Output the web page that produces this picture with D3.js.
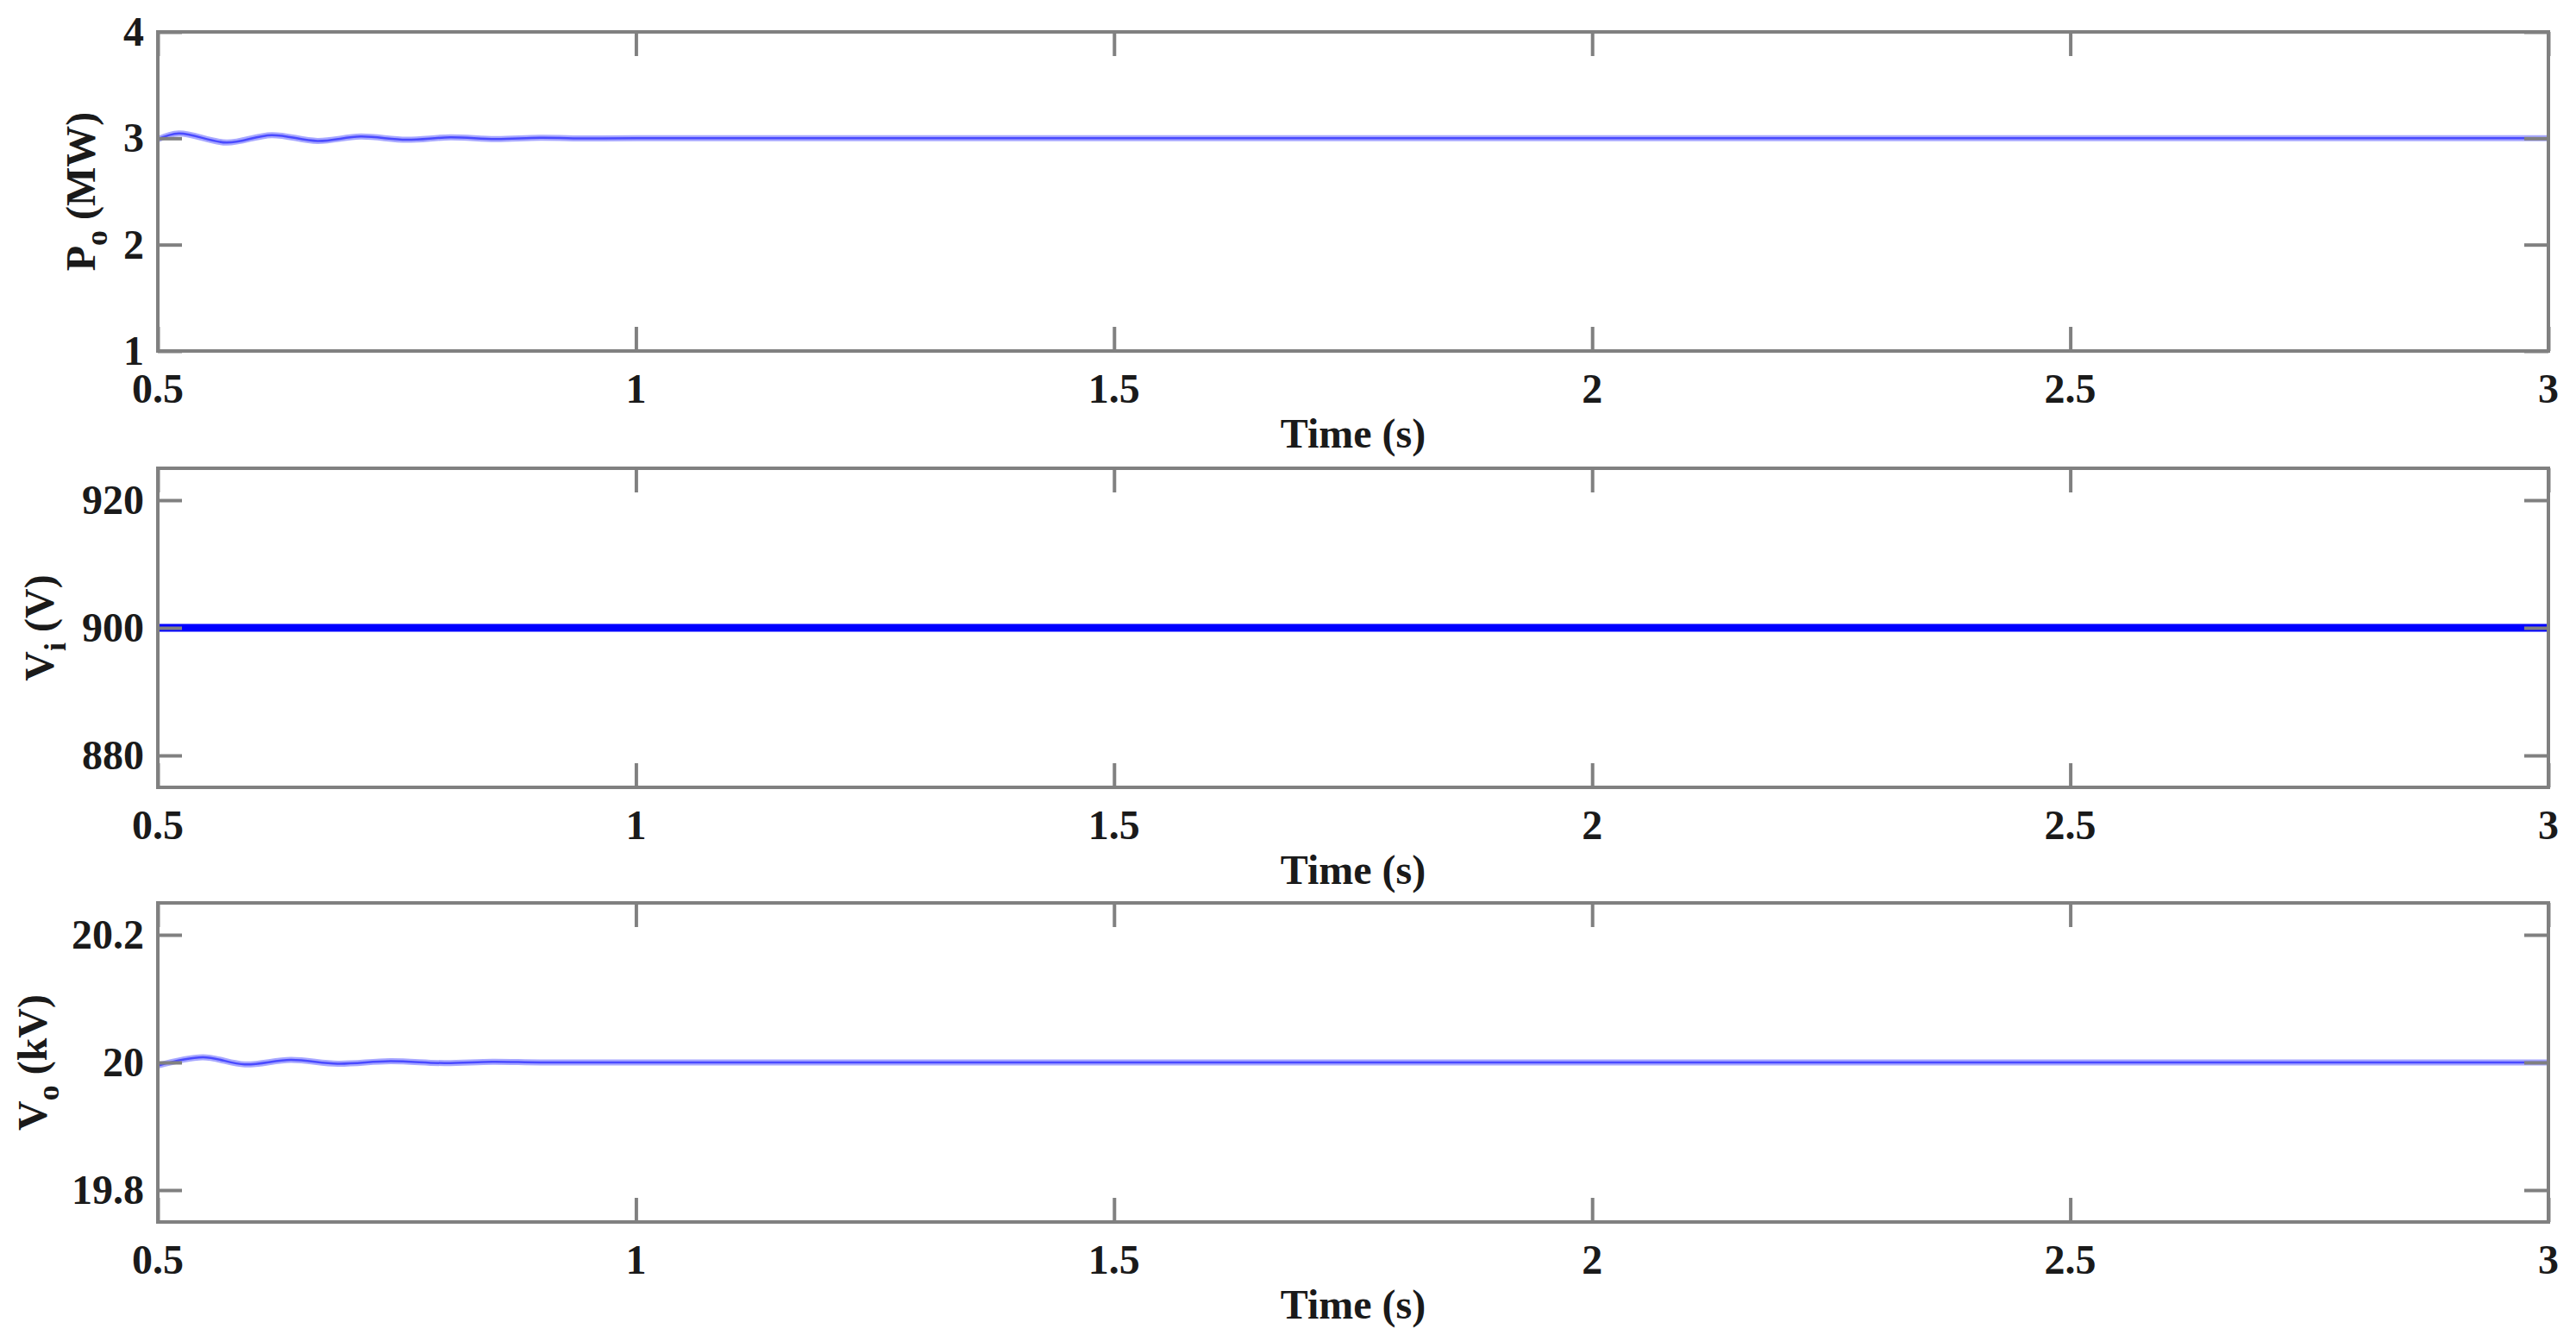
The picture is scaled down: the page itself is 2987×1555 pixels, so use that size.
<!DOCTYPE html>
<html>
<head>
<meta charset="utf-8">
<script src="https://cdn.jsdelivr.net/npm/d3@7"></script>
<style>
  body { margin: 0; background: #fff; }
  text { font-family: "Liberation Serif", "Times New Roman", serif; font-weight: bold; fill: #1a1a1a; }
</style>
</head>
<body>
<svg id="chart" width="2987" height="1555"></svg>
<script>
// x axis
const timeTicks = [0.5, 1, 1.5, 2, 2.5, 3]
const timeDomain = [0.5, 3]

// output power Po (MW)
const poTime = [0.5, 0.522, 0.572, 0.619, 0.667, 0.712, 0.76, 0.806, 0.853, 0.9, 0.95, 1.0, 1.5, 2.0, 2.5, 3.0]
const poValues = [2.99, 3.045, 2.96, 3.03, 2.975, 3.016, 2.986, 3.009, 2.993, 3.004, 2.998, 3.0, 3.0, 3.0, 3.0, 3.0]
const poTicks = [1, 2, 3, 4]
const poDomain = [1, 4]

// input voltage Vi (V)
const viTime = [0.5, 1.0, 1.5, 2.0, 2.5, 3.0]
const viValues = [900, 900, 900, 900, 900, 900]
const viTicks = [880, 900, 920]
const viDomain = [875, 925]

// output voltage Vo (kV)
const voTime = [0.5, 0.547, 0.591, 0.639, 0.688, 0.743, 0.8, 0.85, 0.9, 1.0, 1.5, 2.0, 2.5, 3.0]
const voValues = [19.995, 20.008, 19.997, 20.004, 19.998, 20.002, 19.999, 20.001, 20.0, 20.0, 20.0, 20.0, 20.0, 20.0]
const voTicks = [19.8, 20, 20.2]
const voDomain = [19.75, 20.25]

const panels = [
    {top: 37, time: poTime, values: poValues, ticks: poTicks, domain: poDomain,
     label: "P", sub: "o", unit: " (MW)", labelX: 110, thick: false},
    {top: 543, time: viTime, values: viValues, ticks: viTicks, domain: viDomain,
     label: "V", sub: "i", unit: " (V)", labelX: 62, thick: true},
    {top: 1047, time: voTime, values: voValues, ticks: voTicks, domain: voDomain,
     label: "V", sub: "o", unit: " (kV)", labelX: 54, thick: false}
]

const left = 183, right = 2955, plotH = 370, tickLen = 28
const axisColor = "#808080"

const svg = d3.select("#chart")
svg.append("rect").attr("width", 2987).attr("height", 1555).attr("fill", "#fff")

const x = d3.scaleLinear().domain(timeDomain).range([left, right])

panels.forEach(function(p) {
    const y = d3.scaleLinear().domain(p.domain).range([p.top + plotH, p.top])
    const g = svg.append("g")

    // data line
    const line = d3.line().x((d, i) => x(p.time[i])).y(d => y(d)).curve(d3.curveCatmullRom)
    if (p.thick) {
        g.append("path").attr("d", line(p.values)).attr("fill", "none")
            .attr("stroke", "#0000ff").attr("stroke-width", 9)
    } else {
        g.append("path").attr("d", line(p.values)).attr("fill", "none")
            .attr("stroke", "#a8a8ff").attr("stroke-width", 7)
        g.append("path").attr("d", line(p.values)).attr("fill", "none")
            .attr("stroke", "#4a4aff").attr("stroke-width", 2.5)
    }

    // inward ticks on all four sides
    const yl = d3.axisLeft(y).tickValues(p.ticks).tickSize(-tickLen).tickFormat("")
    const yr = d3.axisRight(y).tickValues(p.ticks).tickSize(-tickLen).tickFormat("")
    const xb = d3.axisBottom(x).tickValues(timeTicks).tickSize(-tickLen).tickFormat("")
    const xt = d3.axisTop(x).tickValues(timeTicks).tickSize(-tickLen).tickFormat("")
    const axes = [
        g.append("g").attr("transform", `translate(${left},0)`).call(yl),
        g.append("g").attr("transform", `translate(${right},0)`).call(yr),
        g.append("g").attr("transform", `translate(0,${p.top + plotH})`).call(xb),
        g.append("g").attr("transform", `translate(0,${p.top})`).call(xt)
    ]
    axes.forEach(a => {
        a.select(".domain").remove()
        a.selectAll("line").attr("stroke", axisColor).attr("stroke-width", 4)
    })

    // box
    g.append("rect").attr("x", left).attr("y", p.top)
        .attr("width", right - left).attr("height", plotH)
        .attr("fill", "none").attr("stroke", axisColor).attr("stroke-width", 4)

    // tick labels
    g.selectAll(".ylab").data(p.ticks).enter().append("text")
        .attr("x", left - 16).attr("y", d => y(d) + 16)
        .attr("text-anchor", "end").attr("font-size", 48)
        .text(d => d)
    g.selectAll(".xlab").data(timeTicks).enter().append("text")
        .attr("x", d => x(d)).attr("y", p.top + plotH + 60)
        .attr("text-anchor", "middle").attr("font-size", 48)
        .text(d => d)

    // axis titles
    g.append("text").attr("x", (left + right) / 2).attr("y", p.top + plotH + 112)
        .attr("text-anchor", "middle").attr("font-size", 48).text("Time (s)")

    const cy = p.top + plotH / 2
    const t = g.append("text")
        .attr("transform", `translate(${p.labelX},${cy}) rotate(-90)`)
        .attr("text-anchor", "middle").attr("font-size", 48)
    t.append("tspan").text(p.label)
    t.append("tspan").attr("dy", 14).attr("font-size", 36).text(p.sub)
    t.append("tspan").attr("dy", -14).text(p.unit)
})
</script>
</body>
</html>
